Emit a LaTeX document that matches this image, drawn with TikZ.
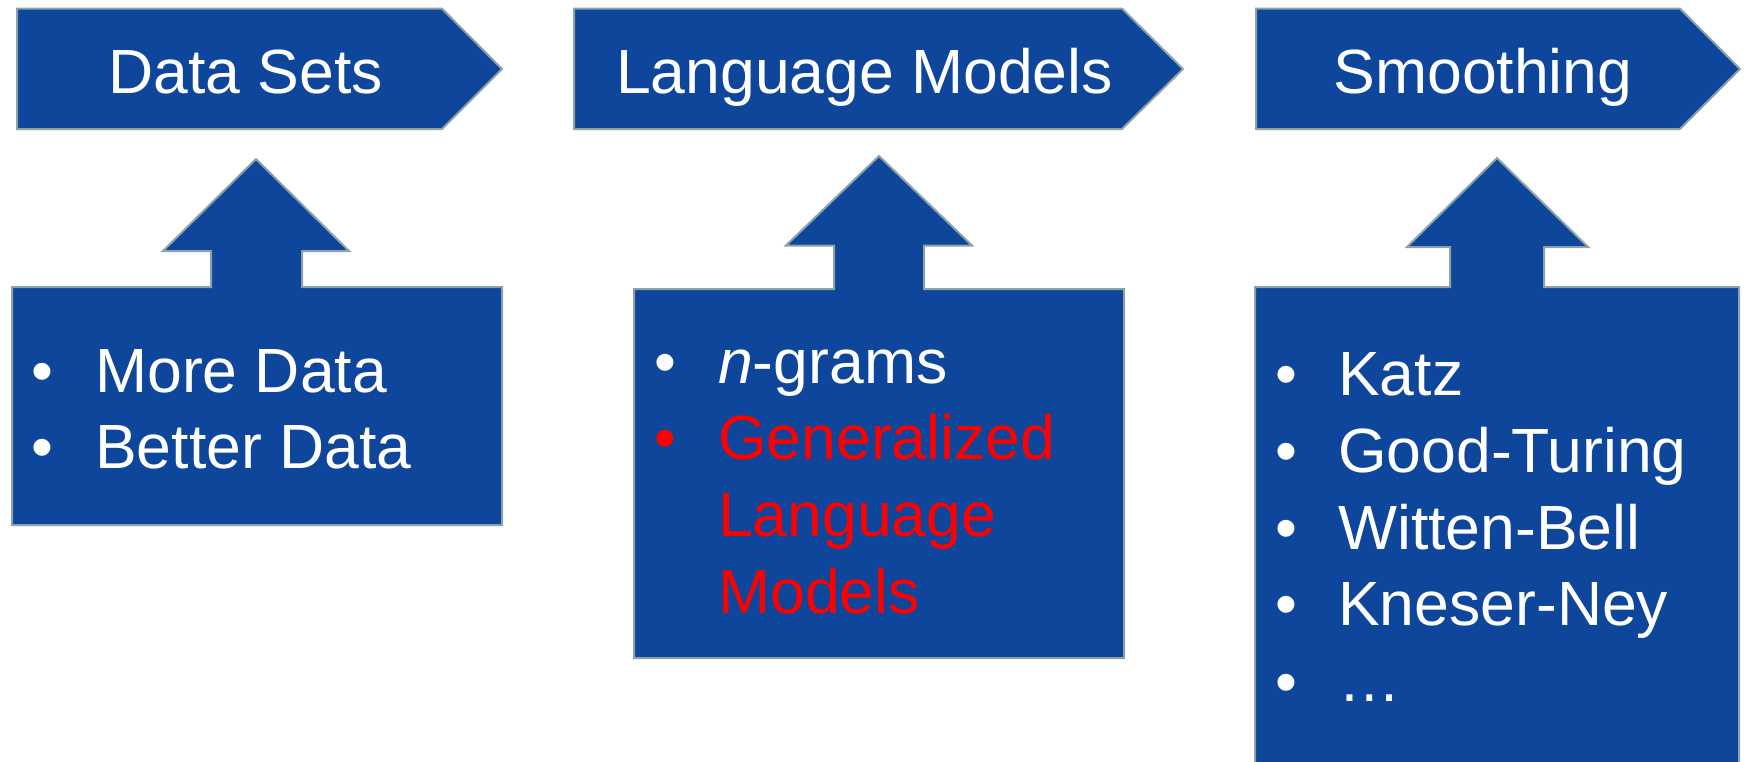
\documentclass[tikz,border=0pt]{standalone}
\usepackage{fontspec}
\setmainfont{Liberation Sans}
\definecolor{boxblue}{RGB}{14,70,155}
\definecolor{edgegrey}{RGB}{140,162,166}
\definecolor{alertred}{RGB}{255,0,0}
\begin{document}
\begin{tikzpicture}[x=1pt,y=-1pt,
  blueshape/.style={fill=boxblue, draw=edgegrey, line width=2pt, line join=miter},
  hdr/.style={text=white, inner sep=0pt, anchor=base, font=\fontsize{62.5}{76}\selectfont},
  itemtxt/.style={text=white, inner sep=0pt, anchor=base west, font=\fontsize{62.5}{76}\selectfont},
  bul/.style={text=white, inner sep=0pt, anchor=base, font=\fontsize{62.5}{76}\selectfont},
  redtext/.style={text=alertred}]
\useasboundingbox (0,0) rectangle (1745,761);

% header pentagons
\draw[blueshape] (17,8.6) -- (442,8.6) -- (502,69) -- (442,129) -- (17,129) -- cycle;
\draw[blueshape] (574,8.6) -- (1122,8.6) -- (1183,69) -- (1122,129) -- (574,129) -- cycle;
\draw[blueshape] (1256,8.6) -- (1680,8.6) -- (1740,69) -- (1680,129) -- (1256,129) -- cycle;

% callout boxes with up arrows
\draw[blueshape] (12,287) -- (211,287) -- (211,251) -- (163,251) -- (256,159) -- (349,251)
  -- (302,251) -- (302,287) -- (502,287) -- (502,525) -- (12,525) -- cycle;
\draw[blueshape] (634,289) -- (834,289) -- (834,245.5) -- (786,245.5) -- (879,156) -- (972,245.5)
  -- (924,245.5) -- (924,289) -- (1124,289) -- (1124,658) -- (634,658) -- cycle;
\draw[blueshape] (1255,287) -- (1450,287) -- (1450,247) -- (1407,247) -- (1497,158) -- (1588,247)
  -- (1544,247) -- (1544,287) -- (1739,287) -- (1739,800) -- (1255,800) -- cycle;

% header texts
\node[hdr] (hdata) at (245.5,93) {Data Sets};
\node[hdr] (hlang) at (864.5,93) {Language Models};
\node[hdr] (hsmooth) at (1483,93) {Smoothing};

% data list
\node[bul] (db1) at (42,392) {•};
\node[itemtxt] (dt1) at (95,392) {More Data};
\node[bul] (db2) at (42,468) {•};
\node[itemtxt] (dt2) at (95,468) {Better Data};

% language model list
\node[bul] (lb1) at (665,383) {•};
\node[itemtxt] (lt1) at (718,383) {\textit{n}-grams};
\node[bul, redtext] (lb2) at (665,459.5) {•};
\node[itemtxt, redtext] (lt2) at (718,459.5) {Generalized};
\node[itemtxt, redtext] (lt3) at (718,536) {Language};
\node[itemtxt, redtext] (lt4) at (718,613) {Models};

% smoothing list
\node[bul] (sb1) at (1286,395.5) {•};
\node[itemtxt] (st1) at (1338,395.5) {Katz};
\node[bul] (sb2) at (1286,472) {•};
\node[itemtxt] (st2) at (1338,472) {Good-Turing};
\node[bul] (sb3) at (1286,549) {•};
\node[itemtxt] (st3) at (1338,549) {Witten-Bell};
\node[bul] (sb4) at (1286,625) {•};
\node[itemtxt] (st4) at (1338,625) {Kneser-Ney};
\node[bul] (sb5) at (1286,703) {•};
\node[itemtxt] (st5) at (1338,701.6) {…};
\end{tikzpicture}
\end{document}
